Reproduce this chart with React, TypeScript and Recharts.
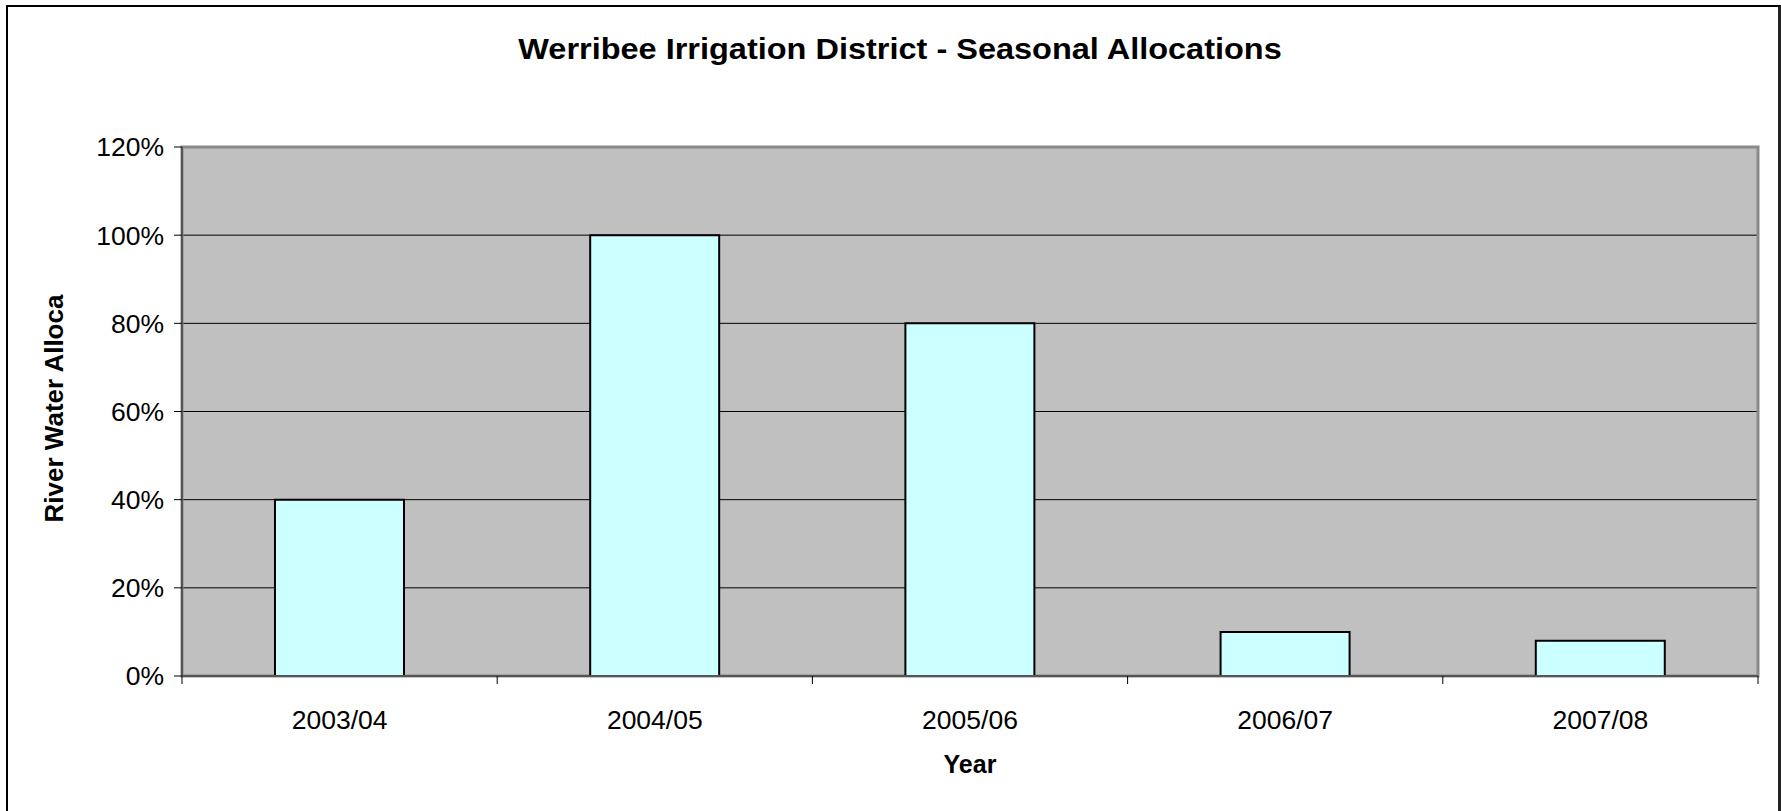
import { BarChart, Bar, XAxis, YAxis, CartesianGrid, ReferenceArea } from "recharts"

const YEARS = ["2003/04", "2004/05", "2005/06", "2006/07", "2007/08"]
const ALLOCATIONS = [0.4, 1.0, 0.8, 0.1, 0.08]
const Y_TICKS = [0, 0.2, 0.4, 0.6, 0.8, 1.0, 1.2]

const TITLE = "Werribee Irrigation District - Seasonal Allocations"
const FONT = "'Liberation Sans', Arial, sans-serif"

const data = YEARS.map((year, i) => ({ year, alloc: ALLOCATIONS[i] }))

const pct = (v: number) => `${Math.round(v * 100)}%`

// Excel style: tick marks sit between categories, labels in the middle
function YearTick(props: any) {
  const { x, y, payload, index, visibleTicksCount } = props
  const half = payload.offset ?? 0
  const axisY = y - 34
  const last = index === (visibleTicksCount ?? YEARS.length) - 1
  return (
    <g>
      <line x1={x - half} x2={x - half} y1={axisY} y2={axisY + 8} stroke="#000" strokeWidth={1} />
      {last && <line x1={x + half} x2={x + half} y1={axisY} y2={axisY + 8} stroke="#000" strokeWidth={1} />}
      <text x={x} y={y} dy="0.71em" textAnchor="middle" fontSize={26.5} fontFamily={FONT} fill="#000">
        {payload.value}
      </text>
    </g>
  )
}

export default function App() {
  return (
    <div
      style={{
        position: "absolute",
        left: 0,
        top: 0,
        width: 1781,
        height: 811,
        overflow: "hidden",
        background: "#fff",
        fontFamily: FONT,
      }}
    >
      {/* outer chart frame, bottom edge runs off the page */}
      <div
        style={{
          position: "absolute",
          left: 6,
          top: 5,
          width: 1775,
          height: 806,
          boxSizing: "border-box",
          borderTop: "2px solid #000",
          borderLeft: "2px solid #000",
          borderRight: "3px solid #222",
        }}
      />
      <div
        style={{
          position: "absolute",
          left: 0,
          top: 33,
          width: 1800,
          textAlign: "center",
          fontSize: 29,
          fontWeight: "bold",
          color: "#000",
          lineHeight: "32px",
          transform: "scaleX(1.12)",
          transformOrigin: "900px 0",
        }}
      >
        {TITLE}
      </div>
      <BarChart
        width={1781}
        height={811}
        data={data}
        margin={{ top: 147, right: 23, left: 0, bottom: 134 }}
        barCategoryGap="29.5%"
        style={{ position: "absolute", left: 0, top: 0 }}
      >
        <CartesianGrid
          vertical={false}
          stroke="#000"
          strokeWidth={1}
          fill="#C0C0C0"
          fillOpacity={1}
        />
        <ReferenceArea y1={0} y2={1.2} fill="none" stroke="#8a8a8a" strokeWidth={3} ifOverflow="visible" />
        <XAxis
          dataKey="year"
          height={1}
          tickLine={false}
          tickSize={8}
          tickMargin={26}
          axisLine={{ stroke: "#555", strokeWidth: 2 }}
          tick={<YearTick />}
          interval={0}
          label={{
            content: ({ viewBox }: any) => (
              <text
                x={viewBox.x + viewBox.width / 2}
                y={viewBox.y + 97}
                textAnchor="middle"
                fontSize={25}
                fontWeight="bold"
                fontFamily={FONT}
                fill="#000"
              >
                Year
              </text>
            ),
          }}
        />
        <YAxis
          width={182}
          domain={[0, 1.2]}
          ticks={Y_TICKS}
          tickFormatter={pct}
          tickSize={8}
          tickMargin={10}
          tickLine={{ stroke: "#000", strokeWidth: 1 }}
          axisLine={{ stroke: "#555", strokeWidth: 2 }}
          tick={{ fill: "#000", fontSize: 26.5, fontFamily: FONT }}
          label={{
            content: ({ viewBox }: any) => {
              const cx = 63
              const cy = viewBox.y + viewBox.height / 2 - 3
              return (
                <text
                  x={cx}
                  y={cy}
                  transform={`rotate(-90, ${cx}, ${cy})`}
                  textAnchor="middle"
                  fontSize={26}
                  fontWeight="bold"
                  fontFamily={FONT}
                  fill="#000"
                >
                  River Water Alloca
                </text>
              )
            },
          }}
        />
        <Bar dataKey="alloc" fill="#CCFFFF" stroke="#000" strokeWidth={2} isAnimationActive={false} />
      </BarChart>
    </div>
  )
}
